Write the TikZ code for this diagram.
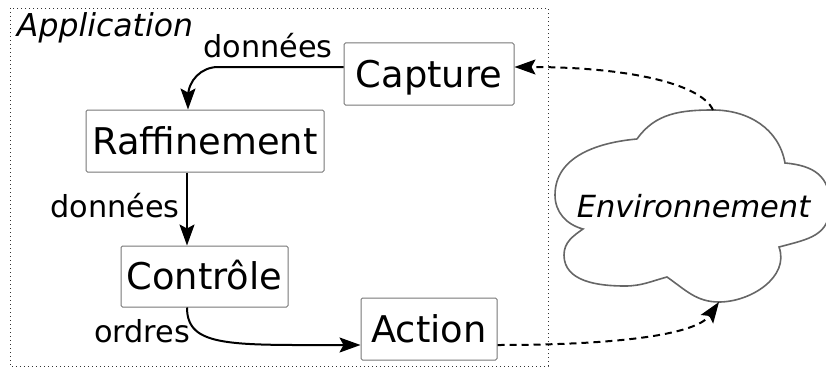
\documentclass[tikz,border=0pt]{standalone}
\usepackage{fontspec}
\setmainfont{DejaVu Sans}
\usetikzlibrary{arrows.meta}
\definecolor{boxgray}{HTML}{777777}
\definecolor{cloudgray}{HTML}{666666}
\begin{document}
\begin{tikzpicture}[x=1pt,y=-1pt,
  box/.style={draw=boxgray, line width=1pt, rounded corners=1.5pt, inner sep=0pt,
    font=\fontsize{36.8}{40}\selectfont, text height=26.8pt, text depth=0pt},
  lbl/.style={font=\fontsize{30.3}{32}\selectfont, anchor=base, inner sep=0pt},
  flow/.style={line width=2pt, -{Stealth[length=21pt,width=15pt,inset=4pt]}},
  ext/.style={flow, dash pattern=on 7pt off 5pt},
  frame/.style={line width=0.9pt, dash pattern=on 0.9pt off 3.1pt, draw=black!80},
  cloudline/.style={draw=cloudgray, line width=1.6pt}]
\useasboundingbox (0,0) rectangle (826,369);
\draw[frame] (10,8) rectangle (548,366);
\node[box, minimum width=170pt, minimum height=62pt] (cap) at (429,74) {Capture};
\node[box, minimum width=238pt, minimum height=62pt] (raf) at (205,141) {Raffinement};
\node[box, minimum width=167pt, minimum height=61pt] (ctl) at (204.5,276.5) {Contrôle};
\node[box, minimum width=136pt, minimum height=62pt] (act) at (429,329) {Action};
% cloud
\coordinate (cA) at (637,139);
\coordinate (cD) at (785,163);
\coordinate (cE) at (779,247);
\coordinate (cC) at (667,277);
\coordinate (cB) at (583,229);
\coordinate (envtop) at (713,110);
\coordinate (envbot) at (719,302);
\draw[cloudline]
  (cA) to[out=55,in=180] (envtop) to[out=0,in=100] (cD)
  to[out=-5,in=90,looseness=1.2] (830,205) to[out=-90,in=15,looseness=1.2] (cE)
  to[out=-70,in=0] (envbot) to[out=180,in=-35] (cC)
  to[out=195,in=0] (625,286) to[out=180,in=-90] (564,255) to[out=90,in=215] (cB)
  to[out=165,in=-90] (555,195) to[out=90,in=185] (cA);
\node[font=\itshape\fontsize{30.5}{32}\selectfont, anchor=base, inner sep=0pt] (env) at (693.5,217) {Environnement};
\node[lbl] (l1) at (268,58) {données};
\node[lbl] (l2) at (115,217) {données};
\node[lbl] (l3) at (142,342) {ordres};
\node[lbl, font=\itshape\fontsize{31.5}{33}\selectfont] (app) at (105,37) {Application};
\draw[flow, rounded corners=30pt] ([yshift=7pt]cap.west) -| ([xshift=-17pt]raf.north);
\draw[flow] ([xshift=-18pt]raf.south) -- ([xshift=-17.5pt]ctl.north);
\draw[flow] ([xshift=-17.5pt]ctl.south) to[out=-90,in=180,out distance=40pt,in distance=130pt] ([yshift=-16pt]act.west);
\draw[ext] ([yshift=-16pt]act.east) to[out=0,in=-125,out distance=120pt,in distance=40pt] (envbot);
\draw[ext] (envtop) to[out=115,in=0,out distance=30pt,in distance=110pt] ([yshift=7pt]cap.east);
\end{tikzpicture}
\end{document}
